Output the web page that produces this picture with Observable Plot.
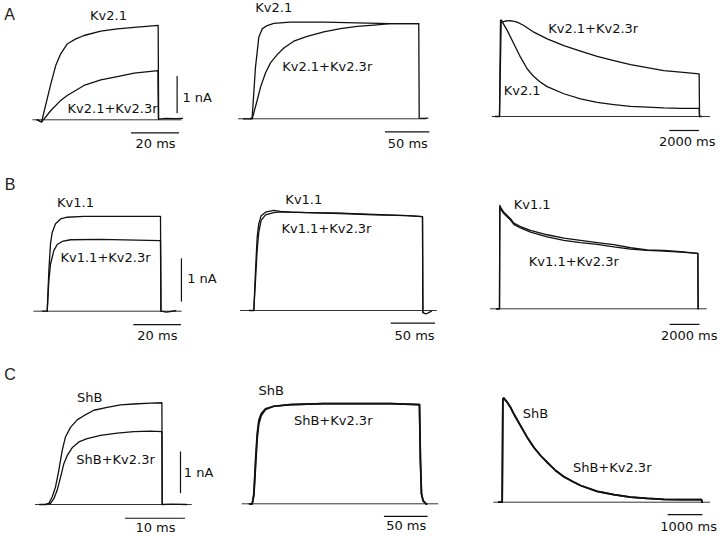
<!DOCTYPE html>
<html><head><meta charset="utf-8">
<script src="https://cdn.jsdelivr.net/npm/d3@7"></script>
<script src="https://cdn.jsdelivr.net/npm/@observablehq/plot@0.6"></script>
<style>
body{margin:0;background:#fff}
#fig{position:relative;width:720px;height:536px;background:#fff;overflow:hidden}
#fig svg{position:absolute;overflow:visible;background:transparent}
.letter{position:absolute;font:16px "Liberation Sans",Arial,sans-serif;color:#222;transform:translate(-50%,-50%);line-height:1}
</style></head><body><div id="fig"></div>
<script>
// ---------- data (time in ms, current in nA) ----------
// Row A
const a1_t_kv21 = [-1.5, 0.3, 4.2, 6.25, 8.3, 11.1, 14.6, 18, 25, 31.9, 38.9, 48.9, 49.1, 52, 56, 59];
const a1_i_kv21 = [0, -0.06, 0.97, 1.46, 1.77, 2.04, 2.17, 2.26, 2.38, 2.44, 2.48, 2.53, 0.02, 0.04, 0.03, 0.04];
const a1_t_mix  = [-1.5, 0.3, 4.2, 8.3, 11, 18, 25, 31.9, 38.9, 48.8, 49.0];
const a1_i_mix  = [0, -0.06, 0.25, 0.52, 0.65, 0.92, 1.07, 1.16, 1.25, 1.32, 0.02];

const a2_t_kv21 = [-8, 0, 1.9, 5.6, 9.4, 13.2, 18.8, 26.3, 45.1, 82.6, 120, 157.8, 189.7, 190.2, 196, 200];
const a2_i_kv21 = [0, 0, 0.04, 1.38, 2.19, 2.41, 2.50, 2.56, 2.59, 2.59, 2.57, 2.55, 2.55, 0.02, 0.01, 0.02];
const a2_t_mix  = [0, 1.9, 7.5, 11.3, 16.9, 22.5, 30.1, 37.6, 48.8, 63.9, 82.6, 101.5, 120.3, 139, 157.8, 189.7];
const a2_i_mix  = [0, 0.0, 0.49, 0.85, 1.23, 1.50, 1.72, 1.90, 2.08, 2.21, 2.33, 2.42, 2.48, 2.51, 2.55, 2.55];

const a3_t_kv21 = [-300, 0, 67, 112, 516, 965, 1414, 1863, 2312, 2761, 3210, 4332, 5455, 6577, 7700, 8822, 9944, 11066, 12189, 13446, 13470, 13600];
const a3_i_kv21 = [0, 0, 2.57, 2.59, 2.31, 1.95, 1.59, 1.28, 1.07, 0.92, 0.80, 0.61, 0.47, 0.38, 0.32, 0.27, 0.25, 0.23, 0.22, 0.22, 0, 0];
const a3_t_mix  = [0, 112, 404, 741, 1190, 1639, 2312, 3210, 4332, 5455, 6577, 7700, 8822, 9944, 11066, 12189, 13446, 13470];
const a3_i_mix  = [0, 2.53, 2.56, 2.57, 2.53, 2.44, 2.26, 2.08, 1.90, 1.75, 1.61, 1.50, 1.39, 1.31, 1.23, 1.19, 1.14, 0];

// Row B
const b1_t_kv11 = [-2, 0, 0.7, 1.4, 2.1, 3.5, 5.6, 8.4, 15.4, 29.4, 47.6, 47.8, 50, 54];
const b1_i_kv11 = [0, 0, 0.94, 1.56, 1.82, 2.02, 2.13, 2.17, 2.19, 2.19, 2.19, 0, -0.02, 0.01];
const b1_t_mix  = [0, 0.7, 1.4, 2.8, 4.2, 6.3, 9.8, 22.4, 47.6, 47.8];
const b1_i_mix  = [0, 0.71, 1.09, 1.40, 1.54, 1.61, 1.65, 1.66, 1.63, 0];

const b2_t_kv11 = [-5, 0, 1.9, 3.8, 5.6, 8.3, 13.2, 22.5, 30.1, 41.4, 60.2, 97.7, 135.3, 172.9, 190.2, 190.6, 194, 200];
const b2_i_kv11 = [0, 0, 0.92, 1.69, 2.00, 2.19, 2.27, 2.31, 2.29, 2.27, 2.26, 2.25, 2.22, 2.19, 2.17, -0.05, -0.08, -0.02];
const b2_t_mix  = [0, 1.9, 3.8, 5.6, 8.3, 13.2, 22.5, 30.1, 60.2, 97.7, 135.3, 172.9, 190.2, 190.6];
const b2_i_mix  = [0, 0.69, 1.39, 1.81, 2.08, 2.21, 2.26, 2.28, 2.26, 2.24, 2.21, 2.19, 2.17, -0.05];

const b3_t      = [-200, 0, 22, 67, 291, 738, 962, 1409, 2081, 3199, 4318, 5436, 6555, 7673, 8792, 9911, 11029, 12148, 13311, 13330];
const b3_i_kv11 = [0, 0, 2.39, 2.35, 2.23, 2.08, 1.98, 1.90, 1.81, 1.71, 1.63, 1.58, 1.53, 1.48, 1.41, 1.36, 1.35, 1.32, 1.28, 0];
const b3_i_mix  = [0, 0, 2.35, 2.31, 2.20, 2.05, 1.95, 1.87, 1.77, 1.66, 1.58, 1.53, 1.49, 1.43, 1.38, 1.35, 1.33, 1.31, 1.28, 0];

// Row C
const c1_t_shb = [-1, 0, 0.56, 1.11, 1.67, 2.22, 2.78, 3.33, 4.17, 5.28, 6.39, 8.06, 10.28, 12.5, 14.7, 17.5, 19.4, 19.45, 21, 23.5];
const c1_i_shb = [0, 0, 0.03, 0.18, 0.42, 0.82, 1.29, 1.62, 1.85, 2.03, 2.13, 2.26, 2.33, 2.39, 2.41, 2.43, 2.44, 0, 0.01, 0];
const c1_t_mix = [0, 0.83, 1.39, 1.94, 2.5, 3.06, 3.61, 4.44, 5.56, 6.94, 9.17, 11.94, 14.72, 17.5, 19.4, 19.45];
const c1_i_mix = [0, 0.03, 0.14, 0.34, 0.65, 0.98, 1.17, 1.36, 1.50, 1.58, 1.66, 1.71, 1.75, 1.76, 1.75, 0];

const c2_t     = [-3, 0, 1.9, 3.8, 5.7, 7.6, 10.3, 15.2, 24.7, 43.9, 82, 120.3, 158.4, 191.6, 192.7, 193.9, 195.8, 199.6];
const c2_i_shb = [0, 0, 0.24, 1.04, 1.68, 2.0, 2.16, 2.28, 2.34, 2.38, 2.40, 2.40, 2.40, 2.38, 1.04, 0.24, 0.07, -0.01];
const c2_i_mix = [0, 0, 0.20, 0.88, 1.56, 1.92, 2.12, 2.26, 2.34, 2.38, 2.40, 2.40, 2.40, 2.38, 1.04, 0.24, 0.07, -0.01];

const c3_t     = [-100, 0, 19, 48, 144, 240, 336, 528, 720, 912, 1104, 1297, 1537, 1777, 2017, 2257, 2738, 3216, 3697, 4179, 4657, 5138, 5744, 5760];
const c3_i_shb = [0, 0, 2.48, 2.50, 2.40, 2.28, 2.12, 1.84, 1.56, 1.32, 1.12, 0.96, 0.76, 0.61, 0.50, 0.40, 0.26, 0.18, 0.12, 0.09, 0.07, 0.06, 0.06, 0];
const c3_i_mix = [0, 0, 2.46, 2.49, 2.39, 2.27, 2.11, 1.83, 1.55, 1.31, 1.12, 0.95, 0.76, 0.61, 0.50, 0.40, 0.26, 0.18, 0.12, 0.09, 0.07, 0.06, 0.06, 0];

// labels and scale bars
const rowLetters = ["A", "B", "C"];
const traceNames = {
  A: ["Kv2.1", "Kv2.1+Kv2.3r"],
  B: ["Kv1.1", "Kv1.1+Kv2.3r"],
  C: ["ShB", "ShB+Kv2.3r"]
};
const timeBars = [20, 50, 2000, 20, 50, 2000, 10, 50, 1000];   // ms
const currentBar = 1;                                             // nA
const currentBarLabel = "1 nA";

// ---------- layout (pixel geometry of each panel) ----------
const panels = [
  {row:"A", left:0,   top:0,   w:240, h:170, x0:40.3, kx:2.4,    y0:119.3, ky:37.3, base:[-3.3,58.9],
   traces:[[a1_t_kv21,a1_i_kv21],[a1_t_mix,a1_i_mix]], lab:[[28.2,2.80],[29.9,0.30]],
   tbar:[37.8,-0.35], tlab:[47.8,-0.635], ibar:[56.8,0.16], ilab:[59.0,0.60]},
  {row:"A", left:240, top:0,   w:240, h:170, x0:250,  kx:0.887,  y0:118.3, ky:37.3, base:[-13.5,198.4],
   traces:[[a2_t_kv21,a2_i_kv21],[a2_t_mix,a2_i_mix]], lab:[[26.2,2.98],[86.5,1.38]],
   tbar:[152.2,-0.35], tlab:[177.3,-0.67]},
  {row:"A", left:480, top:0,   w:240, h:170, x0:499,  kx:0.01485, y0:116, ky:37.3, base:[-492,14209],
   traces:[[a3_t_kv21,a3_i_kv21],[a3_t_mix,a3_i_mix]], lab:[[1529,0.70],[6310,2.35]],
   tbar:[11468,-0.375], tlab:[12640,-0.69]},
  {row:"B", left:0,   top:170, w:240, h:186, x0:46.7, kx:2.38,   y0:310.7, ky:43.3, base:[-5.6,56.7],
   traces:[[b1_t_kv11,b1_i_kv11],[b1_t_mix,b1_i_mix]], lab:[[11.9,2.51],[24.5,1.23]],
   tbar:[36.4,-0.31], tlab:[46.3,-0.57], ibar:[56.4,0.21], ilab:[58.8,0.75]},
  {row:"B", left:240, top:170, w:240, h:186, x0:253.3, kx:0.887, y0:310, ky:43.3, base:[-15,206.8],
   traces:[[b2_t_kv11,b2_i_kv11],[b2_t_mix,b2_i_mix]], lab:[[56.4,2.56],[81.9,1.89]],
   tbar:[154.9,-0.29], tlab:[181.2,-0.59]},
  {row:"B", left:480, top:170, w:240, h:186, x0:499,  kx:0.0149, y0:308.3, ky:43.3, base:[-604,13940],
   traces:[[b3_t,b3_i_kv11],[b3_t,b3_i_mix]], lab:[[2195,2.39],[4987,1.08]],
   tbar:[11450,-0.36], tlab:[12732,-0.63]},
  {row:"C", left:0,   top:356, w:240, h:180, x0:45,   kx:6,      y0:504, ky:41.7, base:[-1.67,24.45],
   traces:[[c1_t_shb,c1_i_shb],[c1_t_mix,c1_i_mix]], lab:[[7.38,2.56],[11.67,1.08]],
   tbar:[13.33,-0.33], tlab:[18.33,-0.56], ibar:[22.5,0.26], ilab:[23.05,0.76]},
  {row:"C", left:240, top:356, w:240, h:180, x0:251.7, kx:0.873, y0:503.3, ky:41.7, base:[-11.5,213.7],
   traces:[[c2_t,c2_i_shb],[c2_t,c2_i_mix]], lab:[[21.8,2.70],[92.8,1.98]],
   tbar:[151.5,-0.30], tlab:[176.4,-0.54], sw:1.7},
  {row:"C", left:480, top:356, w:240, h:180, x0:501.7, kx:0.0347, y0:501.7, ky:41.7, base:[-242,6003],
   traces:[[c3_t,c3_i_shb],[c3_t,c3_i_mix]], lab:[[960,2.12],[3170,0.82]],
   tbar:[4784,-0.30], tlab:[5372,-0.58], sw:1.7}
];

const fig = document.getElementById("fig");
const INK = "#111";
const FONT = "'DejaVu Sans', Verdana, sans-serif";

panels.forEach((p, k) => {
  const xd = [(p.left - p.x0) / p.kx, (p.left + p.w - p.x0) / p.kx];
  const yd = [(p.y0 - (p.top + p.h)) / p.ky, (p.y0 - p.top) / p.ky];
  const marks = [];
  // zero-current baseline
  marks.push(Plot.ruleY([{y: 0, x1: p.base[0], x2: p.base[1]}], {y: "y", x1: "x1", x2: "x2", stroke: "#333", strokeWidth: 1}));
  // current traces
  p.traces.forEach(([ts, is]) => {
    const data = ts.map((t, j) => ({t, i: is[j]}));
    marks.push(Plot.line(data, {x: "t", y: "i", stroke: INK, strokeWidth: p.sw || 1.3, strokeLinejoin: "round"}));
  });
  // trace labels
  const names = traceNames[p.row];
  const labData = names.map((n, j) => ({x: p.lab[j][0], y: p.lab[j][1], text: n}));
  marks.push(Plot.text(labData, {x: "x", y: "y", text: "text", fontSize: 13, fill: INK, fontFamily: FONT}));
  // time scale bar
  const tb = timeBars[k];
  marks.push(Plot.ruleY([{y: p.tbar[1], x1: p.tbar[0], x2: p.tbar[0] + tb}], {y: "y", x1: "x1", x2: "x2", stroke: INK, strokeWidth: 1.2}));
  marks.push(Plot.text([{x: p.tlab[0], y: p.tlab[1], text: `${tb} ms`}], {x: "x", y: "y", text: "text", fontSize: 13, fill: INK, fontFamily: FONT}));
  // current scale bar
  if (p.ibar) {
    marks.push(Plot.ruleX([{x: p.ibar[0], y1: p.ibar[1], y2: p.ibar[1] + currentBar}], {x: "x", y1: "y1", y2: "y2", stroke: INK, strokeWidth: 1.2}));
    marks.push(Plot.text([{x: p.ilab[0], y: p.ilab[1], text: currentBarLabel}], {x: "x", y: "y", text: "text", textAnchor: "start", fontSize: 13, fill: INK, fontFamily: FONT}));
  }
  const svg = Plot.plot({
    width: p.w, height: p.h, margin: 0,
    x: {domain: xd, axis: null},
    y: {domain: yd, axis: null},
    style: {overflow: "visible", background: "transparent", fontFamily: FONT},
    marks
  });
  svg.style.left = p.left + "px";
  svg.style.top = p.top + "px";
  fig.appendChild(svg);
});

// row letters
const letterPos = [[9.5, 14.7], [10, 185.3], [10, 374.5]];
rowLetters.forEach((L, j) => {
  const d = document.createElement("div");
  d.className = "letter";
  d.textContent = L;
  d.style.left = letterPos[j][0] + "px";
  d.style.top = letterPos[j][1] + "px";
  fig.appendChild(d);
});
</script></body></html>
